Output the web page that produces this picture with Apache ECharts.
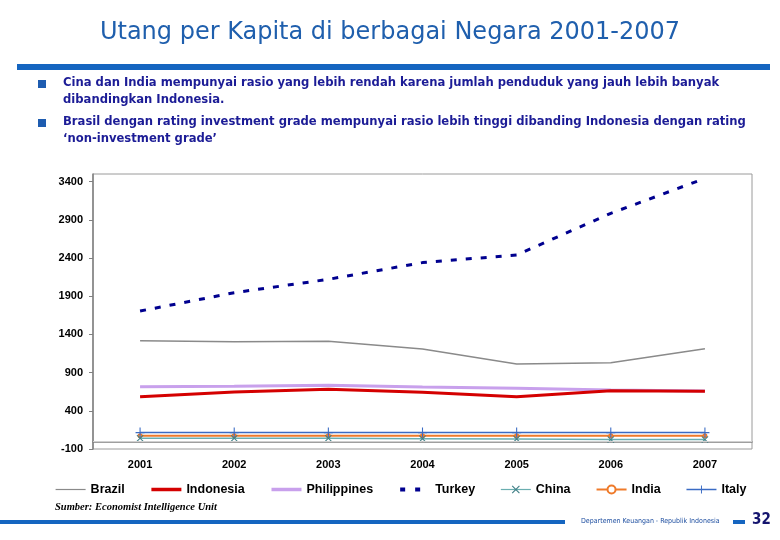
<!DOCTYPE html>
<html><head><meta charset="utf-8">
<script src="https://cdn.jsdelivr.net/npm/echarts@6/dist/echarts.min.js"></script>
<style>html,body{margin:0;padding:0;background:#fff}#c{width:780px;height:540px}</style>
</head><body><div id="c"></div>
<script>
const years = ['2001','2002','2003','2004','2005','2006','2007'];
const brazil = [1318, 1305, 1310, 1210, 1012, 1030, 1213];
const indonesia = [585, 646, 681, 642, 585, 663, 655];
const philippines = [715, 720, 734, 713, 694, 672, 659];
const turkey = [1706, 1946, 2121, 2340, 2440, 2985, 3443];
const china = [40, 40, 40, 35, 30, 25, 25];
const india = [75, 75, 75, 75, 75, 75, 75];
const italy = [115, 115, 115, 115, 115, 115, 115];
const yTicks = {min: -100, max: 3500, interval: 500};

const xSym = 'path://M0,1L1,0L10,9L9,10Z M9,0L10,1L1,10L0,9Z';
const plusSym = 'path://M4.4,0h1.2v10h-1.2z M0,4.4h10v1.2h-10z';
const lab = {fontFamily: 'Liberation Sans, Arial', fontWeight: 'bold', fontSize: 11, color: '#000'};
const navy = '#1c1c96';
const bulletBlue = '#1e5cb0';
const txt = (x, y, s, extra) => ({type: 'text', left: x, top: y, style: Object.assign({text: s, fill: navy, font: 'bold 12.9px "DejaVu Sans Condensed", sans-serif'}, extra || {})});

const chart = echarts.init(document.getElementById('c'), null, {renderer: 'canvas'});
chart.setOption({
  animation: false,
  title: {text: 'Utang per Kapita di berbagai Negara 2001-2007', left: 'center', top: 16,
    textStyle: {fontFamily: 'DejaVu Sans', fontWeight: 'normal', fontSize: 24, color: '#1f5fad'}},
  grid: {left: 93, right: 28, top: 174, bottom: 91, show: true, borderColor: '#9a9a9a', borderWidth: 1},
  legend: {left: 50, top: 478, itemGap: 25, itemWidth: 30, itemHeight: 10,
    textStyle: {fontFamily: 'Liberation Sans, Arial', fontWeight: 'bold', fontSize: 12.5, color: '#000'},
    data: [
      {name: 'Brazil', itemStyle: {opacity: 0}, lineStyle: {width: 1.2}},
      {name: 'Indonesia', itemStyle: {opacity: 0}, lineStyle: {width: 3.5}},
      {name: 'Philippines', itemStyle: {opacity: 0}, lineStyle: {width: 3.5}},
      {name: 'Turkey', itemStyle: {opacity: 0}, lineStyle: {width: 4, type: [5, 10]}},
      {name: 'China', lineStyle: {width: 1.2}},
      {name: 'India', lineStyle: {width: 2}},
      {name: 'Italy', lineStyle: {width: 1.5}}
    ]},
  xAxis: {type: 'category', data: years, boundaryGap: true,
    axisLine: {lineStyle: {color: '#808080', width: 1.5}}, axisTick: {show: false},
    axisLabel: Object.assign({margin: 10}, lab)},
  yAxis: {type: 'value', min: yTicks.min, max: yTicks.max, interval: yTicks.interval,
    splitLine: {show: false},
    axisLine: {show: true, lineStyle: {color: '#808080', width: 1.5}},
    axisTick: {show: true, length: 4, lineStyle: {color: '#808080'}},
    axisLabel: Object.assign({margin: 10, showMaxLabel: false, formatter: v => String(v)}, lab)},
  series: [
    {name: 'Brazil', type: 'line', data: brazil, symbol: 'none', lineStyle: {color: '#8a8a8a', width: 1.5}, itemStyle: {color: '#8a8a8a'}, z: 3},
    {name: 'Indonesia', type: 'line', data: indonesia, symbol: 'none', lineStyle: {color: '#d40000', width: 3}, itemStyle: {color: '#d40000'}, z: 4},
    {name: 'Philippines', type: 'line', data: philippines, symbol: 'none', lineStyle: {color: '#c8a0ec', width: 3}, itemStyle: {color: '#c8a0ec'}, z: 3},
    {name: 'Turkey', type: 'line', data: turkey, symbol: 'none', lineStyle: {color: '#00008f', width: 3, type: [6, 9]}, itemStyle: {color: '#00008f'}, z: 5},
    {name: 'China', type: 'line', data: china, symbol: xSym, symbolSize: 7, lineStyle: {color: '#6aaeb0', width: 1.5}, itemStyle: {color: '#3f7f86'}, z: 4,
      markLine: {silent: true, symbol: 'none', label: {show: false}, lineStyle: {color: '#d0d0d0', width: 1, type: 'solid'}, data: [{yAxis: 0}]}},
    {name: 'India', type: 'line', data: india, symbol: 'emptyCircle', symbolSize: 3, lineStyle: {color: '#ef7a2a', width: 2}, itemStyle: {color: '#ef7a2a'}, z: 3},
    {name: 'Italy', type: 'line', data: italy, symbol: plusSym, symbolSize: [9, 10], lineStyle: {color: '#3a6bc4', width: 1.5}, itemStyle: {color: '#3a6bc4'}, z: 3}
  ],
  graphic: [
    {type: 'rect', shape: {x: 17, y: 64, width: 753, height: 6}, style: {fill: '#1565c0'}},
    {type: 'rect', shape: {x: 38, y: 80, width: 8, height: 8}, style: {fill: bulletBlue}},
    {type: 'rect', shape: {x: 38, y: 119, width: 8, height: 8}, style: {fill: bulletBlue}},
    txt(63, 76, 'Cina dan India mempunyai rasio yang lebih rendah karena jumlah penduduk yang jauh lebih banyak'),
    txt(63, 93, 'dibandingkan Indonesia.'),
    txt(63, 115, 'Brasil dengan rating investment grade mempunyai rasio lebih tinggi dibanding Indonesia dengan rating'),
    txt(63, 132, '\u2018non-investment grade\u2019'),
    {type: 'text', left: 55, top: 502, style: {text: 'Sumber: Economist Intelligence Unit', fill: '#000', font: 'italic bold 10.5px "Liberation Serif", serif'}},
    {type: 'rect', shape: {x: 0, y: 520, width: 565, height: 4}, style: {fill: '#1565c0'}},
    {type: 'text', left: 581, top: 518, style: {text: 'Departemen Keuangan - Republik Indonesia', fill: '#1f4fa0', font: '7px "DejaVu Sans Condensed", sans-serif'}},
    {type: 'rect', shape: {x: 733, y: 520, width: 12, height: 4}, style: {fill: '#1565c0'}},
    {type: 'text', left: 752, top: 513, style: {text: '32', fill: '#14146e', font: 'bold 15px "DejaVu Sans Condensed", sans-serif'}}
  ]
});
</script></body></html>
